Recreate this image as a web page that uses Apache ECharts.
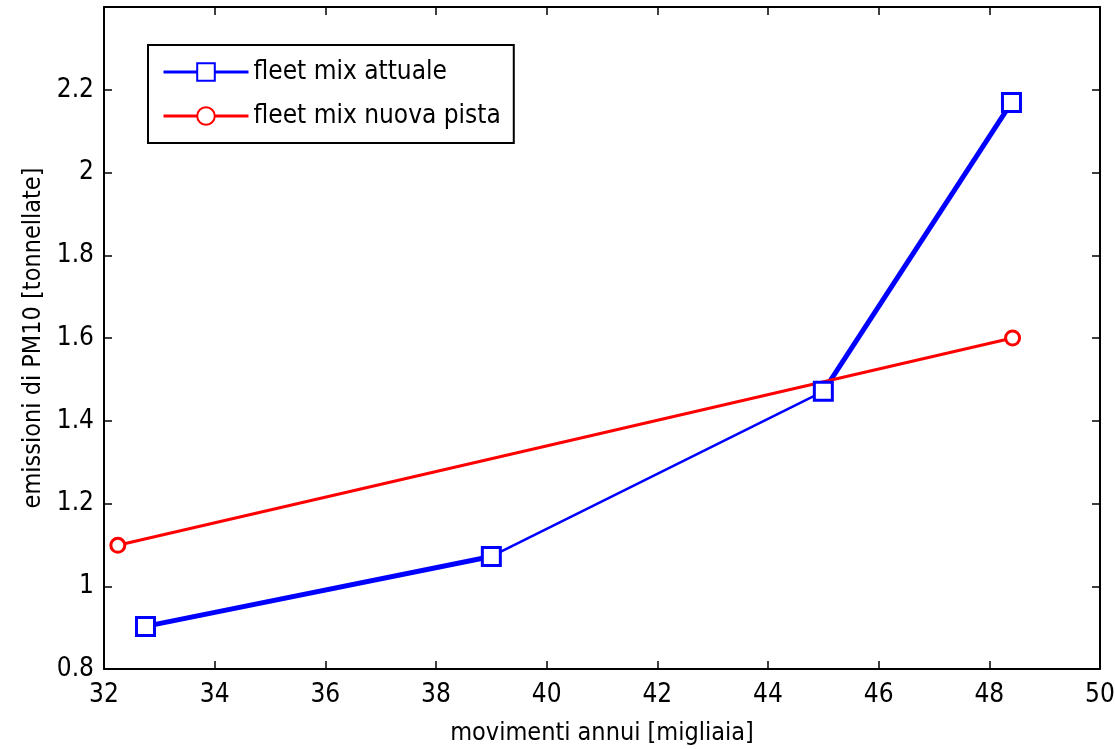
<!DOCTYPE html>
<html>
<head>
<meta charset="utf-8">
<script src="https://cdn.jsdelivr.net/npm/echarts@6/dist/echarts.min.js"></script>
<style>html,body{margin:0;padding:0;background:#fff}#c{width:1115px;height:749px}</style>
</head>
<body>
<div id="c"></div>
<script>
const seriesNames = ['fleet mix attuale', 'fleet mix nuova pista'];
const attualeX = [32.75, 39.0, 45.0, 48.4];
const attualeY = [0.903, 1.072, 1.471, 2.169];
const nuovaX = [32.25, 48.42];
const nuovaY = [1.099, 1.600];
const xTicks = [32, 34, 36, 38, 40, 42, 44, 46, 48, 50];
const yTicks = [0.8, 1, 1.2, 1.4, 1.6, 1.8, 2, 2.2];
const xTitle = 'movimenti annui [migliaia]';
const yTitle = 'emissioni di PM10 [tonnellate]';

const FONT = '"DejaVu Sans Condensed", "Liberation Sans Narrow", sans-serif';
const pts = (xs, ys) => xs.map((x, i) => [x, ys[i]]);
const att = pts(attualeX, attualeY);
const nuo = pts(nuovaX, nuovaY);

const chart = echarts.init(document.getElementById('c'), null, {renderer: 'canvas'});
const axisCommon = {
  axisLine: {show: true, onZero: false, lineStyle: {color: '#000', width: 2}},
  axisTick: {show: true, inside: true, length: 8, lineStyle: {color: '#000', width: 1.5}},
  splitLine: {show: false}
};
chart.setOption({
  animation: false,
  backgroundColor: '#fff',
  grid: {left: 104, right: 15, top: 7, bottom: 80, containLabel: false, outerBoundsMode: 'none'},
  legend: {
    left: 148, top: 45,
    orient: 'vertical',
    data: seriesNames,
    itemWidth: 85, itemHeight: 22, itemGap: 18,
    padding: [14, 13, 14, 14],
    borderColor: '#000', borderWidth: 2,
    backgroundColor: '#fff',
    lineStyle: {width: 3},
    textStyle: {fontFamily: FONT, fontSize: 26, color: '#000'}
  },
  xAxis: [
    Object.assign({}, axisCommon, {
      type: 'value', min: 32, max: 50, interval: 2,
      name: xTitle, nameLocation: 'middle', nameGap: 52,
      nameTextStyle: {fontFamily: FONT, fontSize: 25, color: '#000'},
      axisLabel: {fontFamily: FONT, fontSize: 26, color: '#000', margin: 13}
    }),
    Object.assign({}, axisCommon, {
      type: 'value', min: 32, max: 50, interval: 2, position: 'top',
      axisLabel: {show: false}
    })
  ],
  yAxis: [
    Object.assign({}, axisCommon, {
      type: 'value', min: 0.8, max: 2.4, interval: 0.2,
      name: yTitle, nameLocation: 'middle', nameGap: 56,
      nameTextStyle: {fontFamily: FONT, fontSize: 25, color: '#000'},
      axisLabel: {fontFamily: FONT, fontSize: 26, color: '#000', margin: 10, showMaxLabel: false,
        formatter: v => String(Math.round(v * 10) / 10)}
    }),
    Object.assign({}, axisCommon, {
      type: 'value', min: 0.8, max: 2.4, interval: 0.2, position: 'right',
      axisLabel: {show: false}
    })
  ],
  series: [
    {
      name: seriesNames[0], type: 'line', data: att,
      symbol: 'rect', symbolSize: 18, showSymbol: true,
      itemStyle: {color: '#fff', borderColor: '#0000ff', borderWidth: 3},
      lineStyle: {color: '#0000ff', width: 2.5}, z: 3
    },
    {
      name: 'attuale_a', type: 'line', data: [att[0], att[1]],
      symbol: 'none', lineStyle: {color: '#0000ff', width: 5}, z: 2, silent: true
    },
    {
      name: 'attuale_b', type: 'line', data: [att[2], att[3]],
      symbol: 'none', lineStyle: {color: '#0000ff', width: 5}, z: 2, silent: true
    },
    {
      name: seriesNames[1], type: 'line', data: nuo,
      symbol: 'circle', symbolSize: 14, showSymbol: true,
      itemStyle: {color: '#fff', borderColor: '#ff0000', borderWidth: 3},
      lineStyle: {color: '#ff0000', width: 3}, z: 3
    }
  ]
});
</script>
</body>
</html>
